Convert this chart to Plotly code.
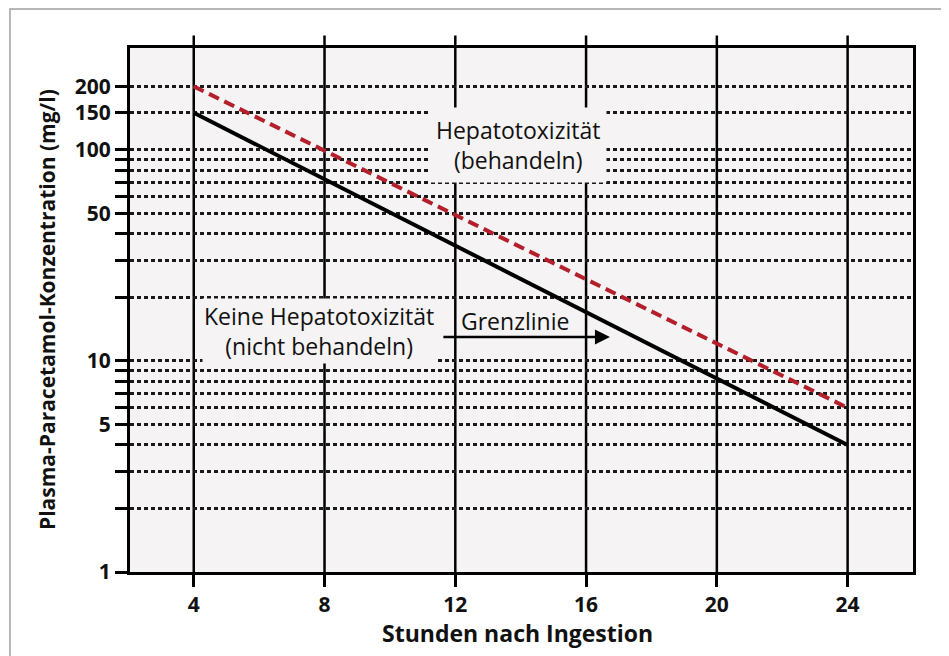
import plotly.graph_objects as go

# ---- data ----
hours = [4, 24]
grenzlinie = [150, 4]          # solid black line (mg/l)
obere_linie = [200, 6]         # dashed red line (mg/l)
x_ticks = [4, 8, 12, 16, 20, 24]
y_grid = [1, 2, 3, 4, 5, 6, 7, 8, 9, 10, 20, 30, 40, 50, 60, 70, 80, 90, 100, 150, 200]
y_labeled = {1: "1", 5: "5", 10: "10", 50: "50", 100: "100", 150: "150", 200: "200"}
y_ticktext = [y_labeled.get(v, "") for v in y_grid]

FONT = "Open Sans"
PLOT_BG = "#f5f3f3"

fig = go.Figure()
fig.add_trace(go.Scatter(x=hours, y=obere_linie, mode="lines",
                         line=dict(color="#b3202c", width=4, dash="11px,6px"),
                         showlegend=False, hoverinfo="skip"))
fig.add_trace(go.Scatter(x=hours, y=grenzlinie, mode="lines",
                         line=dict(color="#000000", width=4),
                         showlegend=False, hoverinfo="skip"))

shapes = []
for xv in x_ticks:
    shapes.append(dict(type="line", xref="x", yref="paper", x0=xv, x1=xv, y0=0, y1=1.024,
                       line=dict(color="#000000", width=2.5), layer="between"))
# outer frame of the figure
shapes.append(dict(type="rect", xref="paper", yref="paper", x0=-0.1533, x1=1.0383,
                   y0=-0.2, y1=1.0744, line=dict(color="#a0a0a0", width=1.5),
                   fillcolor="rgba(0,0,0,0)", layer="above"))

ann_font = dict(family=FONT, size=23, color="#111111", weight=500)
annotations = [
    dict(text="Hepatotoxizität<br>(behandeln)", x=13.92, y=2.024, xref="x", yref="y",
         showarrow=False, font=ann_font, bgcolor=PLOT_BG, borderpad=6, align="center"),
    dict(text="Keine Hepatotoxizität<br>(nicht behandeln)", x=7.83, y=1.142, xref="x", yref="y",
         showarrow=False, font=ann_font, bgcolor=PLOT_BG, borderpad=1, align="center"),
    dict(text="Grenzlinie", x=13.83, y=1.19, xref="x", yref="y",
         showarrow=False, font=ann_font),
    dict(text="", x=16.73, y=1.114, ax=11.59, ay=1.114, xref="x", yref="y",
         axref="x", ayref="y", showarrow=True, arrowhead=2, arrowsize=1.2,
         arrowwidth=2.5, arrowcolor="#000000"),
    dict(text="<b>Stunden nach Ingestion</b>", x=0.4955, y=-0.1164, xref="paper", yref="paper",
         showarrow=False, font=dict(family=FONT, size=23, color="#111111"),
         xanchor="center", yanchor="middle"),
    dict(text="<b>Plasma-Paracetamol-Konzentration (mg/l)</b>", x=-0.106, y=0.5,
         xref="paper", yref="paper", textangle=-90, showarrow=False,
         font=dict(family=FONT, size=21, color="#111111"),
         xanchor="center", yanchor="middle"),
]

fig.update_layout(
    width=949, height=656,
    margin=dict(l=122, r=44, t=40, b=92),
    paper_bgcolor="#ffffff", plot_bgcolor=PLOT_BG,
    shapes=shapes, annotations=annotations,
    showlegend=False,
    xaxis=dict(range=[2.05, 26.0], tickvals=x_ticks, ticks="outside", ticklen=12,
               tickwidth=3, tickcolor="#000000", showgrid=False, zeroline=False,
               showline=True, linewidth=3, linecolor="#000000", mirror=True,
               automargin=False,
               tickfont=dict(family=FONT, size=21, color="#111111", weight=700)),
    yaxis=dict(type="log", range=[0, 2.483], tickvals=y_grid, ticktext=y_ticktext,
               ticks="outside", ticklen=12, tickwidth=3, tickcolor="#000000",
               showgrid=True, gridcolor="#1a1a1a", gridwidth=2.5, griddash="4px,3px",
               zeroline=False, showline=True, linewidth=3, linecolor="#000000", mirror=True,
               automargin=False,
               tickfont=dict(family=FONT, size=21, color="#111111", weight=700)),
)

fig.write_html("out.html")
